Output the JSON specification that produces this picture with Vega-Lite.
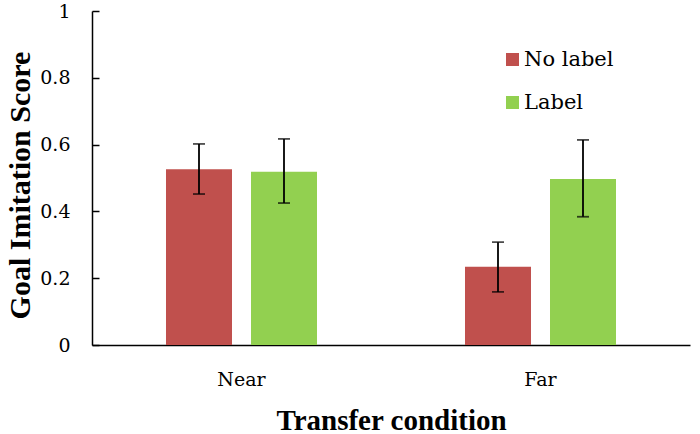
{
  "$schema": "https://vega.github.io/schema/vega-lite/v6.json",
  "width": 598,
  "height": 334,
  "autosize": "none",
  "padding": {"left": 92, "top": 11, "right": 10, "bottom": 89},
  "background": "white",
  "config": {
    "view": {"stroke": null},
    "font": "Liberation Serif",
    "axis": {"grid": false, "domainColor": "#000000", "domainWidth": 1.5, "tickColor": "#000000", "labelColor": "#000000", "titleColor": "#000000", "labelFont": "DejaVu Serif", "titleFont": "Liberation Serif"},
    "axisY": {"labelFont": "DejaVu Serif", "labelFontSize": 19},
    "axisX": {"labelFont": "DejaVu Serif", "labelFontSize": 19}
  },
  "data": {
    "values": [
      {"condition": "Near", "group": "No label", "mean": 0.526, "lo": 0.452, "hi": 0.602},
      {"condition": "Near", "group": "Label", "mean": 0.519, "lo": 0.425, "hi": 0.617},
      {"condition": "Far", "group": "No label", "mean": 0.234, "lo": 0.159, "hi": 0.308},
      {"condition": "Far", "group": "Label", "mean": 0.497, "lo": 0.384, "hi": 0.614}
    ]
  },
  "encoding": {
    "x": {
      "field": "condition", "type": "nominal", "sort": ["Near", "Far"],
      "scale": {"paddingInner": 0, "paddingOuter": 0},
      "axis": {"title": "Transfer condition", "labelAngle": 0, "ticks": false, "labelFont": "DejaVu Serif", "labelFontSize": 19, "labelBaseline": "alphabetic", "labelPadding": 40, "titleFontSize": 29, "titleFontWeight": "bold", "titleBaseline": "alphabetic", "titleY": 84}
    },
    "xOffset": {
      "field": "group", "type": "nominal", "sort": ["No label", "Label"],
      "scale": {"paddingInner": 0.2235, "paddingOuter": 0.8706}
    }
  },
  "layer": [
    {
      "mark": {"type": "bar"},
      "encoding": {
        "y": {
          "field": "mean", "type": "quantitative",
          "scale": {"domain": [0, 1], "nice": false},
          "axis": {"title": "Goal Imitation Score", "values": [0, 0.2, 0.4, 0.6, 0.8, 1], "format": "~g", "tickSize": -7, "tickWidth": 1.5, "labelPadding": 29, "labelFont": "DejaVu Serif", "labelFontSize": 19, "titleFontSize": 30, "titleFontWeight": "bold", "titleBaseline": "alphabetic", "titleX": -63, "titleY": 174}
        },
        "color": {
          "field": "group", "type": "nominal", "sort": ["No label", "Label"],
          "scale": {"domain": ["No label", "Label"], "range": ["#C0504D", "#92D050"]},
          "legend": {"title": null, "orient": "none", "legendX": 410, "legendY": 38, "padding": 0, "symbolType": "square", "symbolSize": 169, "symbolStrokeWidth": 0, "labelFont": "DejaVu Serif", "labelFontSize": 21, "labelColor": "#000000", "labelOffset": 1, "rowPadding": 21}
        }
      }
    },
    {
      "mark": {"type": "rule", "color": "#000000", "strokeWidth": 1.8},
      "encoding": {
        "y": {"field": "lo", "type": "quantitative"},
        "y2": {"field": "hi"}
      }
    },
    {
      "mark": {"type": "tick", "color": "#000000", "size": 12, "thickness": 1.8},
      "encoding": {
        "y": {"field": "lo", "type": "quantitative"}
      }
    },
    {
      "mark": {"type": "tick", "color": "#000000", "size": 12, "thickness": 1.8},
      "encoding": {
        "y": {"field": "hi", "type": "quantitative"}
      }
    }
  ]
}
